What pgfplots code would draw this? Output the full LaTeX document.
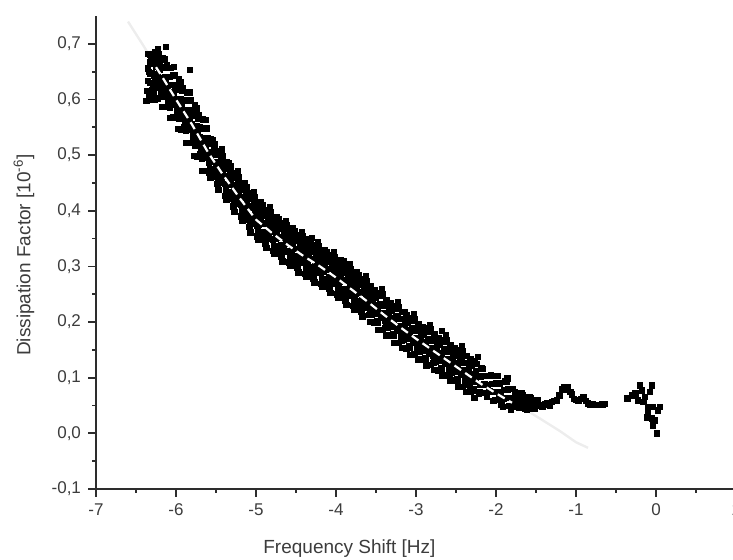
\documentclass[border=0pt]{standalone}
\usepackage{fontspec}
\setmainfont{Liberation Sans}
\usepackage{pgfplots}
\pgfplotsset{compat=1.18}
\definecolor{axcol}{RGB}{45,45,45}
\definecolor{txtcol}{RGB}{60,60,60}
\begin{document}
\begin{tikzpicture}
\begin{axis}[
  set layers,
  scale only axis, width=320pt, height=236.5pt,
  at={(0,0)}, anchor=south west,
  xmin=-7, xmax=1, ymin=-0.1, ymax=0.75,
  axis lines*=left, axis line style={axcol, line width=1pt},
  tick align=outside, tick style={axcol, line width=0.9pt},
  major tick length=4pt, minor tick length=2pt,
  minor x tick num=1, minor y tick num=1,
  xtick={-7,-6,-5,-4,-3,-2,-1,0,1},
  xticklabels={-7,-6,-5,-4,-3,-2,-1,0,1},
  ytick={-0.1,0,0.1,0.2,0.3,0.4,0.5,0.6,0.7},
  yticklabels={{-0,1},{0,0},{0,1},{0,2},{0,3},{0,4},{0,5},{0,6},{0,7}},
  tick label style={font=\fontsize{8.5}{10}\selectfont, text=txtcol},
  xlabel={Frequency Shift [Hz]},
  ylabel={Dissipation Factor [10\textsuperscript{-6}]},
  label style={font=\fontsize{9.5}{11}\selectfont, text=txtcol},
  xlabel style={at={(axis description cs:0.396,-0.127)}, anchor=center},
  ylabel style={at={(axis description cs:-0.1125,0.495)}, anchor=center},
  clip=false,
]
% faint fit extension
\addplot[black!7, line width=1.2pt] coordinates {
(-6.6,0.74) (-6.4,0.695) (-6.2,0.647) (-6.0,0.600) (-5.8,0.555) (-5.6,0.505)
(-5.4,0.462) (-5.2,0.422) (-5.0,0.384) (-4.8,0.360) (-4.6,0.338) (-4.4,0.318)
(-4.2,0.300) (-4.0,0.280) (-3.8,0.258) (-3.6,0.236) (-3.4,0.213) (-3.2,0.191)
(-3.0,0.170) (-2.8,0.150) (-2.6,0.130) (-2.4,0.110) (-2.2,0.090) (-2.0,0.072)
(-1.8,0.055) (-1.6,0.040) (-1.4,0.022) (-1.2,0.004) (-1.0,-0.016) (-0.85,-0.026)
};
% measured data
\addplot[only marks, mark=square*, mark size=1.35pt, black] table {
x y
-6.37 0.597
-6.36 0.615
-6.35 0.633
-6.34 0.650
-6.33 0.667
-6.345 0.682
-6.28 0.609
-6.29 0.629
-6.30 0.647
-6.31 0.665
-6.32 0.681
-6.305 0.617
-6.27 0.599
-6.26 0.635
-6.25 0.658
-6.24 0.675
-6.23 0.690
-6.245 0.622
-6.18 0.607
-6.19 0.620
-6.20 0.638
-6.21 0.654
-6.22 0.681
-6.205 0.663
-6.17 0.587
-6.16 0.605
-6.15 0.623
-6.14 0.640
-6.13 0.657
-6.145 0.672
-6.08 0.585
-6.09 0.605
-6.10 0.623
-6.11 0.641
-6.12 0.657
-6.105 0.593
-6.07 0.567
-6.06 0.603
-6.05 0.626
-6.04 0.643
-6.03 0.658
-6.045 0.590
-5.98 0.570
-5.99 0.583
-6.00 0.601
-6.01 0.617
-6.02 0.644
-6.005 0.626
-5.97 0.547
-5.96 0.565
-5.95 0.583
-5.94 0.600
-5.93 0.617
-5.945 0.632
-5.88 0.543
-5.89 0.563
-5.90 0.581
-5.91 0.599
-5.92 0.615
-5.905 0.551
-5.87 0.522
-5.86 0.558
-5.85 0.581
-5.84 0.598
-5.83 0.613
-5.845 0.545
-5.78 0.524
-5.79 0.537
-5.80 0.555
-5.81 0.571
-5.82 0.598
-5.805 0.580
-5.77 0.499
-5.76 0.517
-5.75 0.535
-5.74 0.552
-5.73 0.569
-5.745 0.584
-5.68 0.494
-5.69 0.514
-5.70 0.532
-5.71 0.550
-5.72 0.566
-5.705 0.502
-5.67 0.472
-5.66 0.508
-5.65 0.531
-5.64 0.548
-5.63 0.563
-5.645 0.495
-5.58 0.474
-5.59 0.487
-5.60 0.505
-5.61 0.521
-5.62 0.548
-5.605 0.530
-5.57 0.460
-5.56 0.474
-5.55 0.488
-5.54 0.501
-5.53 0.516
-5.545 0.527
-5.48 0.455
-5.49 0.471
-5.50 0.486
-5.51 0.500
-5.52 0.513
-5.505 0.462
-5.47 0.437
-5.46 0.466
-5.45 0.484
-5.44 0.498
-5.43 0.510
-5.445 0.455
-5.38 0.437
-5.39 0.448
-5.40 0.462
-5.41 0.475
-5.42 0.496
-5.405 0.482
-5.37 0.419
-5.36 0.433
-5.35 0.447
-5.34 0.460
-5.33 0.475
-5.345 0.486
-5.28 0.415
-5.29 0.431
-5.30 0.446
-5.31 0.460
-5.32 0.473
-5.305 0.422
-5.27 0.398
-5.26 0.427
-5.25 0.445
-5.24 0.459
-5.23 0.471
-5.245 0.416
-5.18 0.400
-5.19 0.411
-5.20 0.425
-5.21 0.438
-5.22 0.459
-5.205 0.445
-5.17 0.382
-5.16 0.396
-5.15 0.410
-5.14 0.423
-5.13 0.438
-5.145 0.449
-5.08 0.377
-5.09 0.393
-5.10 0.408
-5.11 0.422
-5.12 0.435
-5.105 0.384
-5.07 0.361
-5.06 0.390
-5.05 0.408
-5.04 0.422
-5.03 0.434
-5.045 0.379
-4.98 0.363
-4.99 0.374
-5.00 0.388
-5.01 0.401
-5.02 0.422
-5.005 0.408
-4.97 0.348
-4.96 0.362
-4.95 0.376
-4.94 0.389
-4.93 0.404
-4.945 0.415
-4.88 0.346
-4.89 0.362
-4.90 0.377
-4.91 0.391
-4.92 0.404
-4.905 0.353
-4.87 0.333
-4.86 0.362
-4.85 0.380
-4.84 0.394
-4.83 0.406
-4.845 0.351
-4.78 0.337
-4.79 0.348
-4.80 0.362
-4.81 0.375
-4.82 0.396
-4.805 0.382
-4.77 0.322
-4.76 0.336
-4.75 0.350
-4.74 0.363
-4.73 0.378
-4.745 0.389
-4.68 0.322
-4.69 0.338
-4.70 0.353
-4.71 0.367
-4.72 0.380
-4.705 0.329
-4.67 0.309
-4.66 0.338
-4.65 0.356
-4.64 0.370
-4.63 0.382
-4.645 0.327
-4.58 0.315
-4.59 0.326
-4.60 0.340
-4.61 0.353
-4.62 0.374
-4.605 0.360
-4.57 0.301
-4.56 0.315
-4.55 0.329
-4.54 0.342
-4.53 0.357
-4.545 0.368
-4.48 0.301
-4.49 0.317
-4.50 0.332
-4.51 0.346
-4.52 0.359
-4.505 0.308
-4.47 0.289
-4.46 0.318
-4.45 0.336
-4.44 0.350
-4.43 0.362
-4.445 0.307
-4.38 0.295
-4.39 0.306
-4.40 0.320
-4.41 0.333
-4.42 0.354
-4.405 0.340
-4.37 0.282
-4.36 0.296
-4.35 0.310
-4.34 0.323
-4.33 0.338
-4.345 0.349
-4.28 0.282
-4.29 0.298
-4.30 0.313
-4.31 0.327
-4.32 0.340
-4.305 0.289
-4.27 0.271
-4.26 0.300
-4.25 0.318
-4.24 0.332
-4.23 0.344
-4.245 0.289
-4.18 0.277
-4.19 0.288
-4.20 0.302
-4.21 0.315
-4.22 0.336
-4.205 0.322
-4.17 0.263
-4.16 0.277
-4.15 0.291
-4.14 0.304
-4.13 0.319
-4.145 0.330
-4.08 0.264
-4.09 0.280
-4.10 0.295
-4.11 0.309
-4.12 0.322
-4.105 0.271
-4.07 0.252
-4.06 0.281
-4.05 0.299
-4.04 0.313
-4.03 0.325
-4.045 0.270
-3.98 0.258
-3.99 0.269
-4.00 0.283
-4.01 0.296
-4.02 0.317
-4.005 0.303
-3.97 0.244
-3.96 0.258
-3.95 0.272
-3.94 0.285
-3.93 0.300
-3.945 0.311
-3.88 0.244
-3.89 0.260
-3.90 0.275
-3.91 0.289
-3.92 0.302
-3.905 0.251
-3.87 0.231
-3.86 0.260
-3.85 0.278
-3.84 0.292
-3.83 0.304
-3.845 0.249
-3.78 0.237
-3.79 0.248
-3.80 0.262
-3.81 0.275
-3.82 0.296
-3.805 0.282
-3.77 0.223
-3.76 0.237
-3.75 0.251
-3.74 0.264
-3.73 0.279
-3.745 0.290
-3.68 0.222
-3.69 0.238
-3.70 0.253
-3.71 0.267
-3.72 0.280
-3.705 0.229
-3.67 0.210
-3.66 0.239
-3.65 0.257
-3.64 0.271
-3.63 0.283
-3.645 0.228
-3.58 0.215
-3.59 0.226
-3.60 0.240
-3.61 0.253
-3.62 0.274
-3.605 0.260
-3.57 0.200
-3.56 0.214
-3.55 0.228
-3.54 0.241
-3.53 0.256
-3.48 0.199
-3.49 0.215
-3.50 0.230
-3.51 0.244
-3.52 0.257
-3.47 0.186
-3.46 0.215
-3.45 0.233
-3.44 0.247
-3.43 0.259
-3.38 0.191
-3.39 0.202
-3.40 0.216
-3.41 0.229
-3.42 0.250
-3.37 0.176
-3.36 0.190
-3.35 0.204
-3.34 0.217
-3.33 0.232
-3.28 0.176
-3.29 0.192
-3.30 0.207
-3.31 0.221
-3.32 0.234
-3.27 0.163
-3.26 0.192
-3.25 0.210
-3.24 0.224
-3.23 0.236
-3.18 0.168
-3.19 0.179
-3.20 0.193
-3.21 0.206
-3.22 0.227
-3.17 0.154
-3.16 0.168
-3.15 0.182
-3.14 0.195
-3.13 0.210
-3.08 0.154
-3.09 0.170
-3.10 0.185
-3.11 0.199
-3.12 0.212
-3.07 0.141
-3.06 0.170
-3.05 0.188
-3.04 0.202
-3.03 0.214
-2.98 0.147
-2.99 0.158
-3.00 0.172
-3.01 0.185
-3.02 0.206
-2.97 0.133
-2.96 0.147
-2.95 0.161
-2.94 0.174
-2.93 0.189
-2.88 0.133
-2.89 0.149
-2.90 0.164
-2.91 0.178
-2.92 0.191
-2.87 0.122
-2.86 0.151
-2.85 0.169
-2.84 0.183
-2.83 0.195
-2.78 0.128
-2.79 0.139
-2.80 0.153
-2.81 0.166
-2.82 0.187
-2.77 0.114
-2.76 0.128
-2.75 0.142
-2.74 0.155
-2.73 0.170
-2.68 0.114
-2.69 0.130
-2.70 0.145
-2.71 0.159
-2.72 0.172
-2.67 0.103
-2.66 0.132
-2.65 0.150
-2.64 0.164
-2.63 0.176
-2.58 0.109
-2.59 0.120
-2.60 0.134
-2.61 0.147
-2.62 0.168
-2.57 0.095
-2.56 0.109
-2.55 0.123
-2.54 0.136
-2.53 0.151
-2.48 0.095
-2.49 0.111
-2.50 0.126
-2.51 0.140
-2.52 0.153
-2.47 0.083
-2.46 0.112
-2.45 0.130
-2.44 0.144
-2.43 0.156
-2.38 0.089
-2.39 0.100
-2.40 0.114
-2.41 0.127
-2.42 0.148
-2.37 0.075
-2.36 0.089
-2.35 0.103
-2.34 0.116
-2.33 0.131
-2.28 0.076
-2.29 0.092
-2.30 0.107
-2.31 0.121
-2.32 0.134
-2.27 0.064
-2.26 0.093
-2.25 0.111
-2.24 0.125
-2.23 0.137
-2.215 0.071
-2.205 0.087
-2.195 0.102
-2.185 0.117
-2.135 0.073
-2.145 0.088
-2.155 0.103
-2.165 0.116
-2.115 0.065
-2.105 0.087
-2.095 0.103
-2.085 0.076
-2.035 0.058
-2.045 0.074
-2.055 0.089
-2.065 0.104
-2.015 0.060
-2.005 0.075
-1.995 0.090
-1.985 0.103
-1.935 0.052
-1.945 0.074
-1.955 0.090
-1.965 0.063
-1.915 0.047
-1.905 0.063
-1.895 0.078
-1.885 0.093
-1.835 0.049
-1.845 0.064
-1.855 0.079
-1.865 0.092
-1.815 0.042
-1.805 0.064
-1.795 0.080
-1.785 0.053
-1.735 0.048
-1.745 0.057
-1.755 0.066
-1.765 0.075
-1.715 0.046
-1.705 0.054
-1.695 0.063
-1.685 0.072
-1.635 0.045
-1.645 0.052
-1.655 0.061
-1.665 0.069
-1.615 0.043
-1.605 0.050
-1.595 0.058
-1.585 0.066
-1.535 0.044
-1.545 0.050
-1.555 0.057
-1.565 0.063
-1.515 0.045
-1.505 0.050
-1.495 0.055
-1.485 0.060
-6.333 0.604
-6.321 0.630
-6.329 0.647
-6.317 0.679
-6.283 0.624
-6.271 0.642
-6.279 0.669
-6.267 0.685
-6.233 0.602
-6.221 0.628
-6.229 0.645
-6.217 0.677
-6.183 0.613
-6.171 0.631
-6.179 0.658
-6.167 0.674
-6.133 0.587
-6.121 0.613
-6.129 0.630
-6.117 0.662
-6.083 0.596
-6.071 0.614
-6.079 0.641
-6.067 0.657
-6.033 0.568
-6.021 0.594
-6.029 0.611
-6.017 0.643
-5.983 0.575
-5.971 0.593
-5.979 0.620
-5.967 0.636
-5.933 0.546
-5.921 0.572
-5.929 0.589
-5.917 0.621
-5.883 0.552
-5.871 0.570
-5.879 0.597
-5.867 0.613
-5.833 0.522
-5.821 0.548
-5.829 0.565
-5.817 0.597
-5.783 0.528
-5.771 0.546
-5.779 0.573
-5.767 0.589
-5.733 0.497
-5.721 0.523
-5.729 0.540
-5.717 0.572
-5.683 0.503
-5.671 0.521
-5.679 0.548
-5.667 0.564
-5.633 0.472
-5.621 0.498
-5.629 0.515
-5.617 0.547
-5.583 0.469
-5.571 0.490
-5.579 0.504
-5.567 0.529
-5.533 0.472
-5.521 0.488
-5.529 0.508
-5.517 0.520
-5.483 0.448
-5.471 0.469
-5.479 0.483
-5.467 0.508
-5.433 0.451
-5.421 0.467
-5.429 0.487
-5.417 0.499
-5.383 0.427
-5.371 0.448
-5.379 0.462
-5.367 0.487
-5.333 0.432
-5.321 0.448
-5.329 0.468
-5.317 0.480
-5.283 0.408
-5.271 0.429
-5.279 0.443
-5.267 0.468
-5.233 0.413
-5.221 0.429
-5.229 0.449
-5.217 0.461
-5.183 0.390
-5.171 0.411
-5.179 0.425
-5.167 0.450
-5.133 0.394
-5.121 0.410
-5.129 0.430
-5.117 0.442
-5.083 0.371
-5.071 0.392
-5.079 0.406
-5.067 0.431
-5.033 0.376
-5.021 0.392
-5.029 0.412
-5.017 0.424
-4.983 0.354
-4.971 0.375
-4.979 0.389
-4.967 0.414
-4.933 0.362
-4.921 0.378
-4.929 0.398
-4.917 0.410
-4.883 0.341
-4.871 0.362
-4.879 0.376
-4.867 0.401
-4.833 0.349
-4.821 0.365
-4.829 0.385
-4.817 0.397
-4.783 0.328
-4.771 0.349
-4.779 0.363
-4.767 0.388
-4.733 0.337
-4.721 0.353
-4.729 0.373
-4.717 0.385
-4.683 0.317
-4.671 0.338
-4.679 0.352
-4.667 0.377
-4.633 0.326
-4.621 0.342
-4.629 0.362
-4.617 0.374
-4.583 0.307
-4.571 0.328
-4.579 0.342
-4.567 0.367
-4.533 0.316
-4.521 0.332
-4.529 0.352
-4.517 0.364
-4.483 0.297
-4.471 0.318
-4.479 0.332
-4.467 0.357
-4.433 0.306
-4.421 0.322
-4.429 0.342
-4.417 0.354
-4.383 0.287
-4.371 0.308
-4.379 0.322
-4.367 0.347
-4.333 0.297
-4.321 0.313
-4.329 0.333
-4.317 0.345
-4.283 0.278
-4.271 0.299
-4.279 0.313
-4.267 0.338
-4.233 0.288
-4.221 0.304
-4.229 0.324
-4.217 0.336
-4.183 0.269
-4.171 0.290
-4.179 0.304
-4.167 0.329
-4.133 0.278
-4.121 0.294
-4.129 0.314
-4.117 0.326
-4.083 0.260
-4.071 0.281
-4.079 0.295
-4.067 0.320
-4.033 0.269
-4.021 0.285
-4.029 0.305
-4.017 0.317
-3.983 0.250
-3.971 0.271
-3.979 0.285
-3.967 0.310
-3.933 0.259
-3.921 0.275
-3.929 0.295
-3.917 0.307
-3.883 0.239
-3.871 0.260
-3.879 0.274
-3.867 0.299
-3.833 0.248
-3.821 0.264
-3.829 0.284
-3.817 0.296
-3.783 0.229
-3.771 0.250
-3.779 0.264
-3.767 0.289
-3.733 0.237
-3.721 0.253
-3.729 0.273
-3.717 0.285
-3.683 0.218
-3.671 0.239
-3.679 0.253
-3.667 0.278
-3.633 0.226
-3.621 0.242
-3.629 0.262
-3.617 0.274
-3.581 0.213
-3.575 0.238
-3.569 0.264
-3.531 0.219
-3.525 0.245
-3.519 0.198
-3.481 0.201
-3.475 0.226
-3.469 0.252
-3.431 0.207
-3.425 0.233
-3.419 0.186
-3.381 0.189
-3.375 0.214
-3.369 0.240
-3.331 0.196
-3.325 0.222
-3.319 0.175
-3.281 0.178
-3.275 0.203
-3.269 0.229
-3.231 0.184
-3.225 0.210
-3.219 0.163
-3.181 0.167
-3.175 0.192
-3.169 0.218
-3.131 0.174
-3.125 0.200
-3.119 0.153
-3.081 0.156
-3.075 0.181
-3.069 0.207
-3.031 0.163
-3.025 0.189
-3.019 0.142
-2.981 0.146
-2.975 0.171
-2.969 0.197
-2.931 0.153
-2.925 0.179
-2.919 0.132
-2.881 0.136
-2.875 0.161
-2.869 0.187
-2.831 0.144
-2.825 0.170
-2.819 0.123
-2.781 0.127
-2.775 0.152
-2.769 0.178
-2.731 0.134
-2.725 0.160
-2.719 0.113
-2.681 0.117
-2.675 0.142
-2.669 0.168
-2.631 0.125
-2.625 0.151
-2.619 0.104
-2.581 0.108
-2.575 0.133
-2.569 0.159
-2.531 0.115
-2.525 0.141
-2.519 0.094
-2.481 0.098
-2.475 0.123
-2.469 0.149
-2.431 0.105
-2.425 0.131
-2.419 0.084
-2.381 0.088
-2.375 0.113
-2.369 0.139
-2.331 0.095
-2.325 0.121
-2.319 0.074
-2.281 0.079
-2.275 0.104
-2.269 0.130
-6.125 0.694
-5.825 0.653
-6.29 0.599
-6.35 0.656
-4.30 0.351
-3.91 0.309
-3.14 0.218
-2.85 0.189
-2.675 0.184
-2.425 0.155
-2.325 0.083
-2.20 0.075
-1.86 0.099
-1.45 0.050
-1.42 0.048
-1.39 0.052
-1.36 0.054
-1.33 0.050
-1.30 0.056
-1.27 0.058
-1.24 0.059
-1.21 0.068
-1.18 0.080
-1.15 0.083
-1.12 0.079
-1.10 0.084
-1.07 0.075
-1.05 0.070
-1.03 0.062
-1.00 0.060
-0.97 0.058
-0.94 0.062
-0.91 0.065
-0.88 0.058
-0.85 0.054
-0.82 0.052
-0.79 0.052
-0.76 0.051
-0.73 0.051
-0.70 0.051
-0.67 0.052
-0.64 0.053
-0.36 0.063
-0.30 0.068
-0.26 0.072
-0.225 0.059
-0.20 0.086
-0.18 0.077
-0.16 0.056
-0.14 0.065
-0.11 0.029
-0.10 0.047
-0.10 0.036
-0.075 0.074
-0.05 0.086
-0.05 0.027
-0.04 0.047
-0.04 0.014
-0.0125 0.023
0.01 0.000
0.025 0.041
0.05 0.047
};
% dashed fit through the data, on top of the marks
\addplot[on layer=axis foreground, white, line width=1.1pt, dash pattern=on 4pt off 2.5pt] coordinates {
(-6.25,0.658) (-6.2,0.647) (-6.0,0.600) (-5.8,0.555) (-5.6,0.505)
(-5.4,0.462) (-5.2,0.422) (-5.0,0.384) (-4.8,0.360) (-4.6,0.338) (-4.4,0.318)
(-4.2,0.300) (-4.0,0.280) (-3.8,0.258) (-3.6,0.236) (-3.4,0.213) (-3.2,0.191)
(-3.0,0.170) (-2.8,0.150) (-2.6,0.130) (-2.4,0.110) (-2.2,0.090) (-2.0,0.072)
(-1.8,0.055)
};
\end{axis}
\pgfresetboundingbox
\useasboundingbox (-48pt,-35.5pt) rectangle (318.5pt,244.5pt);
\end{tikzpicture}
\end{document}
